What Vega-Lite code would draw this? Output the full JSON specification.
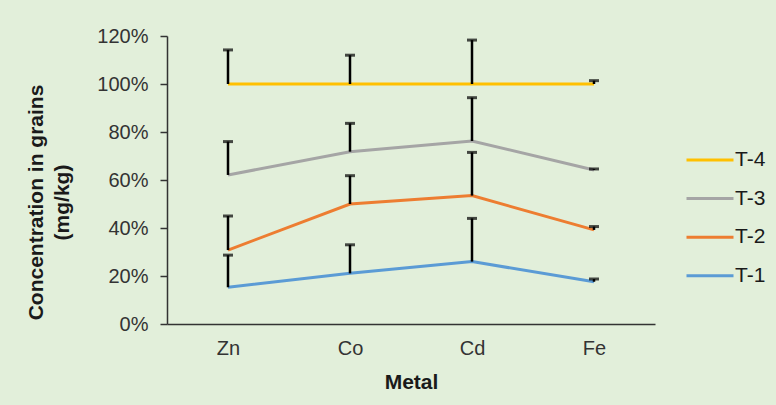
{
  "$schema": "https://vega.github.io/schema/vega-lite/v6.json",
  "width": 488,
  "height": 288,
  "autosize": {"type": "none"},
  "padding": {"left": 167, "top": 36, "right": 121, "bottom": 81},
  "background": "#E2EFDA",
  "config": {
    "view": {"stroke": null},
    "font": "Liberation Sans",
    "axis": {"labelFont": "Liberation Sans", "titleFont": "Liberation Sans", "labelColor": "#333333", "titleColor": "#1a1a1a", "domainColor": "#333333", "tickColor": "#333333", "grid": false},
    "legend": {"labelFont": "Liberation Sans"}
  },
  "data": {
    "values": [
      {"metal": "Zn", "series": "T-1", "value": 0.153, "top": 0.287},
      {"metal": "Zn", "series": "T-2", "value": 0.308, "top": 0.45},
      {"metal": "Zn", "series": "T-3", "value": 0.621, "top": 0.76},
      {"metal": "Zn", "series": "T-4", "value": 1.0, "top": 1.142},
      {"metal": "Co", "series": "T-1", "value": 0.211, "top": 0.33},
      {"metal": "Co", "series": "T-2", "value": 0.5, "top": 0.618},
      {"metal": "Co", "series": "T-3", "value": 0.718, "top": 0.836},
      {"metal": "Co", "series": "T-4", "value": 1.0, "top": 1.12},
      {"metal": "Cd", "series": "T-1", "value": 0.26, "top": 0.44},
      {"metal": "Cd", "series": "T-2", "value": 0.535, "top": 0.715},
      {"metal": "Cd", "series": "T-3", "value": 0.7625, "top": 0.943},
      {"metal": "Cd", "series": "T-4", "value": 1.0, "top": 1.183},
      {"metal": "Fe", "series": "T-1", "value": 0.176, "top": 0.1875},
      {"metal": "Fe", "series": "T-2", "value": 0.392, "top": 0.406},
      {"metal": "Fe", "series": "T-3", "value": 0.642, "top": 0.646},
      {"metal": "Fe", "series": "T-4", "value": 1.0, "top": 1.014}
    ]
  },
  "encoding": {
    "x": {
      "field": "metal",
      "type": "nominal",
      "sort": ["Zn", "Co", "Cd", "Fe"],
      "scale": {"type": "point", "padding": 0.5},
      "axis": {
        "title": "Metal",
        "titleFontSize": 21,
        "titleFontWeight": "bold",
        "titlePadding": 13,
        "labelFontSize": 20,
        "labelAngle": 0,
        "labelPadding": 14,
        "ticks": false,
        "domainWidth": 1.5
      }
    }
  },
  "layer": [
    {
      "mark": {"type": "line", "strokeWidth": 3},
      "encoding": {
        "y": {
          "field": "value",
          "type": "quantitative",
          "scale": {"domain": [0, 1.2], "nice": false},
          "axis": {
            "title": ["Concentration in grains", "(mg/kg)"],
            "titleFontSize": 21,
            "titleFontWeight": "bold",
            "titleX": -121,
            "titleY": 166,
            "titleLineHeight": 26,
            "values": [0, 0.2, 0.4, 0.6, 0.8, 1.0, 1.2],
            "format": ".0%",
            "labelFontSize": 20,
            "labelPadding": 12,
            "tickSize": 7,
            "tickWidth": 1.5,
            "domainWidth": 1.5
          }
        },
        "color": {
          "field": "series",
          "type": "nominal",
          "scale": {"domain": ["T-4", "T-3", "T-2", "T-1"], "range": ["#FFC000", "#A5A5A5", "#ED7D31", "#5B9BD5"]},
          "legend": {
            "title": null,
            "orient": "none",
            "legendX": 518,
            "legendY": 99,
            "symbolType": "stroke",
            "symbolSize": 2209,
            "symbolStrokeWidth": 3,
            "labelFontSize": 21,
            "labelColor": "#1a1a1a",
            "labelOffset": 0,
            "rowPadding": 3.6,
            "padding": 0
          }
        }
      }
    },
    {
      "mark": {"type": "rule", "color": "black", "strokeWidth": 2.5},
      "encoding": {
        "y": {"field": "value", "type": "quantitative"},
        "y2": {"field": "top"}
      }
    },
    {
      "mark": {"type": "tick", "color": "black", "size": 10, "thickness": 3, "orient": "horizontal"},
      "encoding": {
        "y": {"field": "top", "type": "quantitative"}
      }
    }
  ]
}
